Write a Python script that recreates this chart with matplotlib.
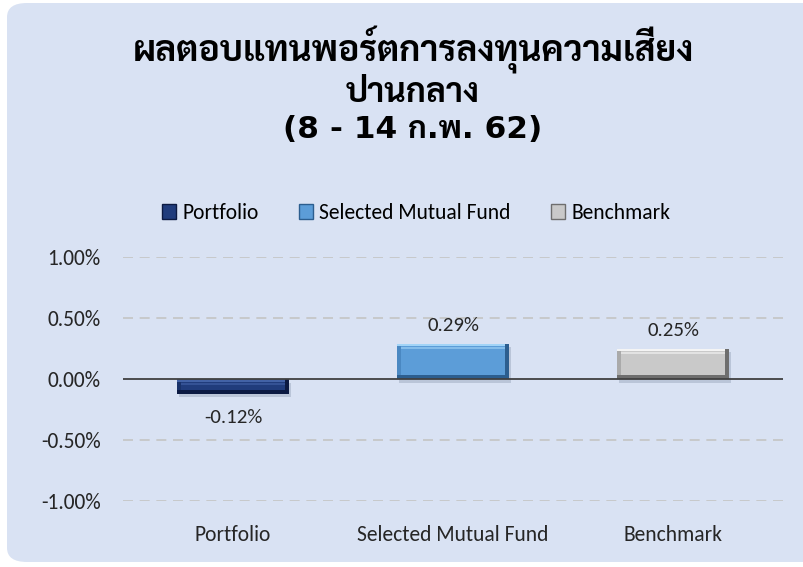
import matplotlib
matplotlib.use('Agg')
import matplotlib.pyplot as plt
from matplotlib.patches import FancyBboxPatch

# data
categories = ['Portfolio', 'Selected Mutual Fund', 'Benchmark']
returns = [-0.12, 0.29, 0.25]          # percent
y_ticks = [-1.0, -0.5, 0.0, 0.5, 1.0]
title_lines = ['ผลตอบแทนพอร์ตการลงทุนความเสี่ยง', 'ปานกลาง', '(8 - 14 ก.พ. 62)']

face_colors = ['#203C7C', '#5C9DD8', '#C9C9C9']
dark_colors = ['#0C1A42', '#2C5E8F', '#6E6E6E']
left_colors = ['#19326A', '#4A88C2', '#AAAAAA']
light_colors = ['#4262A6', '#A2D4F7', '#F4F4F4']

thai_font = ['DejaVu Sans', 'Sarabun']
body_font = ['Carlito', 'Lato', 'DejaVu Sans']

fig = plt.figure(figsize=(8.04, 5.67), dpi=100)
fig.patch.set_facecolor('white')

# rounded light blue chart area
bg = FancyBboxPatch((7 / 804, 5 / 567), 1.2, 559 / 567,
                    boxstyle='round,pad=0,rounding_size=0.025',
                    transform=fig.transFigure, facecolor='#D9E2F3',
                    edgecolor='none', zorder=-5)
fig.patches.append(bg)

ax = fig.add_axes([123 / 804, 66 / 567, 660 / 804, 244 / 567])
ax.set_facecolor('none')
ax.set_zorder(2)

x = list(range(len(categories)))
width = 0.51
ix, iy = 0.018, 0.033   # bevel size (~4 px)

lows = [min(0, v) for v in returns]
highs = [max(0, v) for v in returns]
spans = [abs(v) for v in returns]
lefts = [xi - width / 2 for xi in x]
rights = [xi + width / 2 for xi in x]

# soft shadow
ax.bar([xi + 0.01 for xi in x], spans, width=width, bottom=[lo - 0.03 for lo in lows],
       color='#5F6F8A', alpha=0.25, linewidth=0, zorder=2)
# face
ax.bar(x, returns, width=width, color=face_colors, linewidth=0, zorder=3)
# left bevel
ax.bar(lefts, spans, width=ix, bottom=lows, align='edge',
       color=left_colors, linewidth=0, zorder=4)
# bottom bevel
ax.bar(lefts, iy, width=width, bottom=lows, align='edge',
       color=dark_colors, linewidth=0, zorder=4)
# top bevel
ax.bar(lefts, iy * 0.7, width=width, bottom=[h - iy * 0.7 for h in highs], align='edge',
       color=light_colors, linewidth=0, zorder=5)
# right bevel
ax.bar([r - ix for r in rights], spans, width=ix, bottom=lows, align='edge',
       color=dark_colors, linewidth=0, zorder=5)
# highlight line just under the top bevel
ax.bar([l + ix for l in lefts], [min(0.02, s * 0.12) for s in spans], width=width - 2 * ix,
       bottom=[h - iy * 1.4 for h in highs], align='edge',
       color=light_colors, alpha=0.6, linewidth=0, zorder=5)

for xi, v in zip(x, returns):
    off = 7 if v >= 0 else -11
    ax.annotate('%.2f%%' % v, (xi, v), xytext=(0, off),
                textcoords='offset points', ha='center',
                va='bottom' if v >= 0 else 'top',
                fontsize=15, family=body_font, color='#262626', zorder=7)

ax.set_xlim(-0.5, len(categories) - 0.5)
ax.set_ylim(-1.0, 1.0)
ax.set_yticks(y_ticks)
ax.set_yticklabels(['%.2f%%' % t for t in y_ticks])
ax.set_xticks(x)
ax.set_xticklabels(categories)

for t in y_ticks:
    if t == 0:
        ax.axhline(t, color='#404040', linewidth=1.3, zorder=6)
    else:
        ax.axhline(t, color='#C4C4C4', linewidth=1.2, dashes=(6, 4), zorder=1)

for s in ax.spines.values():
    s.set_visible(False)
ax.tick_params(axis='y', length=0, pad=16, labelsize=15.5, labelcolor='#262626')
ax.tick_params(axis='x', length=0, pad=17, labelsize=15.5, labelcolor='#262626')
for lab in ax.get_xticklabels() + ax.get_yticklabels():
    lab.set_family(body_font)

# title
ys = [50, 92, 130]
sizes = [25.5, 24, 22.5]
for line, yp, fs in zip(title_lines, ys, sizes):
    fig.text(413 / 804, 1 - yp / 567, line, ha='center', va='center',
             fontsize=fs, fontweight='bold', family=thai_font, color='black')

# legend
handles = [plt.Rectangle((0, 0), 1, 1, facecolor=fc, edgecolor=ec)
           for fc, ec in zip(face_colors, dark_colors)]
fig.legend(handles, categories, loc='center', bbox_to_anchor=(416 / 804, 1 - 213 / 567),
           ncol=3, frameon=False, handlelength=0.65, handleheight=0.65,
           handletextpad=0.3, columnspacing=1.87,
           prop={'family': body_font, 'size': 15.5})

fig.savefig('out.png', dpi=100, facecolor=fig.get_facecolor())
